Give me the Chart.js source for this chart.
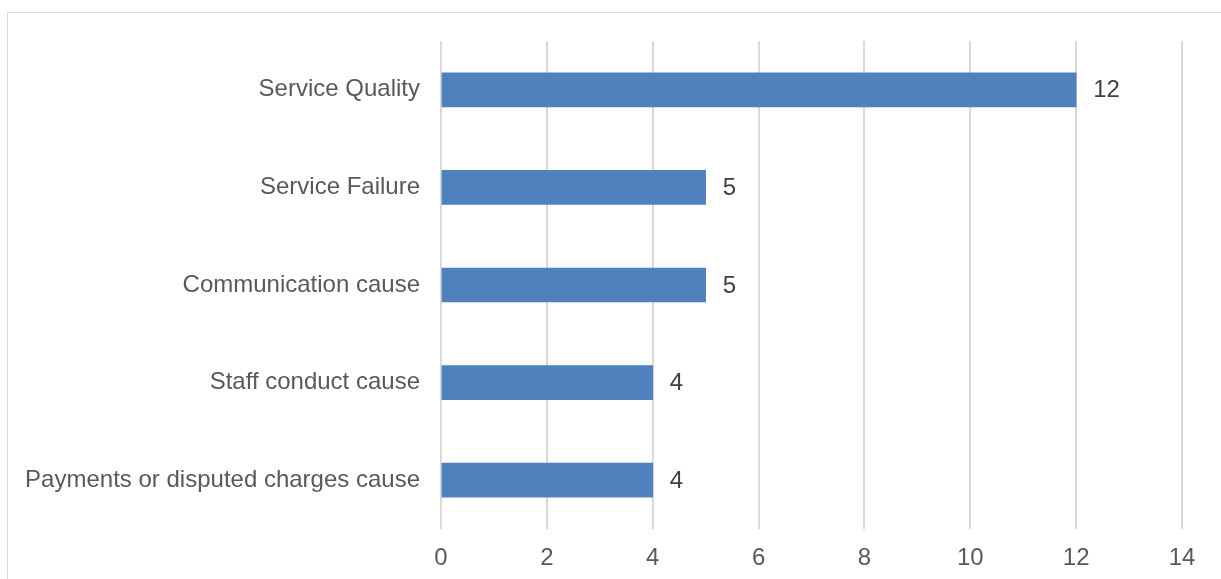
<!DOCTYPE html>
<html>
<head>
<meta charset="utf-8">
<script src="https://cdn.jsdelivr.net/npm/chart.js@4.4.3/dist/chart.umd.min.js"></script>
<style>
  html, body { margin: 0; padding: 0; background: #fff; overflow: hidden; }
  #wrap { position: relative; width: 1221px; height: 579px; }
  #frame {
    position: absolute; left: 7px; top: 12px;
    width: 1400px; height: 800px;
    border: 1.5px solid #d9d9d9; box-sizing: border-box;
  }
  canvas { position: absolute; left: 0; top: 0; }
</style>
</head>
<body>
<div id="wrap">
  <div id="frame"></div>
  <canvas id="complaints" width="1221" height="579"></canvas>
</div>
<script>
// Complaint causes, top to bottom
const causes = [
  'Service Quality',
  'Service Failure',
  'Communication cause',
  'Staff conduct cause',
  'Payments or disputed charges cause'
];
const counts = [12, 5, 5, 4, 4];
const xTicks = [0, 2, 4, 6, 8, 10, 12, 14];

const textColor = '#595959';
const fontFamily = "'Liberation Sans', Arial, sans-serif";

// value labels at the end of each bar
const barValues = {
  id: 'barValues',
  afterDatasetsDraw(chart) {
    const ctx = chart.ctx;
    const meta = chart.getDatasetMeta(0);
    ctx.save();
    ctx.fillStyle = '#404040';
    ctx.font = '24px ' + fontFamily;
    ctx.textAlign = 'left';
    ctx.textBaseline = 'middle';
    meta.data.forEach((bar, i) => {
      ctx.fillText(String(counts[i]), bar.x + 17, bar.y + 1);
    });
    ctx.restore();
  }
};

new Chart(document.getElementById('complaints'), {
  type: 'bar',
  data: {
    labels: causes,
    datasets: [{
      data: counts,
      backgroundColor: '#4f81bd',
      borderWidth: 0,
      barThickness: 34
    }]
  },
  options: {
    indexAxis: 'y',
    responsive: false,
    animation: false,
    events: [],
    layout: { padding: { left: 0, top: 41, right: 39, bottom: 0 } },
    plugins: {
      legend: { display: false },
      tooltip: { enabled: false }
    },
    scales: {
      x: {
        min: 0,
        max: 14,
        afterBuildTicks(scale) {
          scale.ticks = xTicks.map(v => ({ value: v }));
        },
        afterFit(scale) { scale.height = 50; },
        grid: { color: '#d9d9d9', lineWidth: 2, drawTicks: false },
        border: { display: false },
        ticks: {
          color: textColor,
          font: { family: fontFamily, size: 24 },
          padding: 15,
          maxRotation: 0
        }
      },
      y: {
        afterFit(scale) { scale.width = 441; },
        grid: { display: false, drawTicks: false },
        border: { display: false },
        ticks: {
          color: textColor,
          font: { family: fontFamily, size: 24 },
          padding: 21
        }
      }
    }
  },
  plugins: [barValues]
});
</script>
</body>
</html>
